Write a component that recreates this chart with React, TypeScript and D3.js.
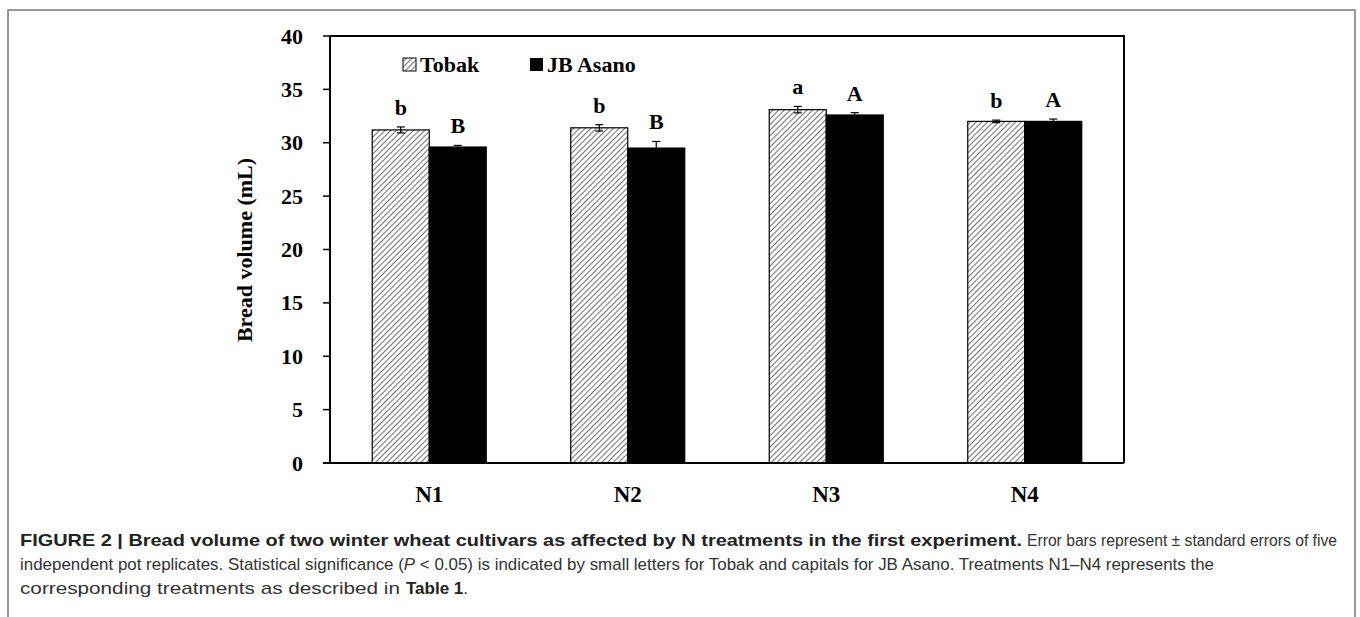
import React from "react";
import * as d3 from "d3";

const categories = ["N1", "N2", "N3", "N4"];
const seriesNames = ["Tobak", "JB Asano"];
const tobakValues = [31.2, 31.4, 33.1, 32.0];
const tobakErrors = [0.28, 0.3, 0.3, 0.12];
const asanoValues = [29.6, 29.5, 32.6, 32.0];
const asanoErrors = [0.15, 0.62, 0.22, 0.22];
const tobakLetters = ["b", "b", "a", "b"];
const asanoLetters = ["B", "B", "A", "A"];
const yTicks = [0, 5, 10, 15, 20, 25, 30, 35, 40];

const W = 1360;
const H = 617;
const plot = { left: 330, right: 1124, top: 36, bottom: 463 };
const serif = "'Liberation Serif', 'Times New Roman', serif";
const sans = "'Liberation Sans', Arial, Helvetica, sans-serif";

export default function App() {
  const y = d3.scaleLinear().domain([0, 40]).range([plot.bottom, plot.top]);
  const p = 0.4257;
  const x0 = d3
    .scaleBand<string>()
    .domain(categories)
    .range([plot.left, plot.right])
    .paddingInner(p)
    .paddingOuter(p / 2);
  const x1 = d3.scaleBand<string>().domain(seriesNames).range([0, x0.bandwidth()]);

  const series = [
    { name: "Tobak", values: tobakValues, errors: tobakErrors, letters: tobakLetters, fill: "url(#hatch)" },
    { name: "JB Asano", values: asanoValues, errors: asanoErrors, letters: asanoLetters, fill: "#000" },
  ];

  return (
    <svg
      width={W}
      height={H}
      style={{ position: "absolute", left: 0, top: 0, background: "#fff" }}
    >
      <defs>
        <pattern id="hatch" patternUnits="userSpaceOnUse" width="4" height="4" patternTransform="rotate(45)">
          <rect width="4" height="4" fill="#fff" />
          <line x1="0" y1="0" x2="0" y2="4" stroke="#222" strokeWidth="1.3" />
        </pattern>
      </defs>
      <rect x={0} y={0} width={W} height={H} fill="#fff" />
      {/* figure frame */}
      <path d={`M8,${H} V10 H1355 V${H}`} fill="none" stroke="#777" strokeWidth={1.5} />

      {/* plot box */}
      <path
        d={`M${plot.left},${plot.top} H${plot.right} V${plot.bottom}`}
        fill="none"
        stroke="#000"
        strokeWidth={2}
      />

      {/* bars */}
      {series.map((s) =>
        categories.map((c, i) => {
          const bx = (x0(c) as number) + (x1(s.name) as number);
          const bw = x1.bandwidth();
          const top = y(s.values[i]);
          return (
            <rect
              key={s.name + c}
              x={bx}
              y={top}
              width={bw}
              height={plot.bottom - top}
              fill={s.fill}
              stroke="#000"
              strokeWidth={1.2}
            />
          );
        })
      )}

      {/* error bars and letters */}
      {series.map((s) =>
        categories.map((c, i) => {
          const cx = (x0(c) as number) + (x1(s.name) as number) + x1.bandwidth() / 2;
          const hi = y(s.values[i] + s.errors[i]);
          const lo = y(s.values[i] - s.errors[i]);
          return (
            <g key={"e" + s.name + c}>
              <line x1={cx} x2={cx} y1={hi} y2={lo} stroke="#000" strokeWidth={1.2} />
              <line x1={cx - 4} x2={cx + 4} y1={hi} y2={hi} stroke="#000" strokeWidth={1.2} />
              <line x1={cx - 4} x2={cx + 4} y1={lo} y2={lo} stroke="#000" strokeWidth={1.2} />
              <text
                x={cx}
                y={hi - 12}
                textAnchor="middle"
                fontFamily={serif}
                fontWeight="bold"
                fontSize={22}
              >
                {s.letters[i]}
              </text>
            </g>
          );
        })
      )}

      {/* axes */}
      <line x1={plot.left} x2={plot.left} y1={plot.top} y2={plot.bottom} stroke="#000" strokeWidth={2} />
      <line x1={plot.left - 7} x2={plot.right} y1={plot.bottom} y2={plot.bottom} stroke="#000" strokeWidth={2} />
      {yTicks.map((t) => (
        <g key={"t" + t}>
          <line x1={plot.left - 7} x2={plot.left} y1={y(t)} y2={y(t)} stroke="#000" strokeWidth={1.5} />
          <text
            x={303}
            y={y(t) + 7.5}
            textAnchor="end"
            fontFamily={serif}
            fontWeight="bold"
            fontSize={22}
          >
            {t}
          </text>
        </g>
      ))}
      <text
        transform="translate(252,250) rotate(-90)"
        textAnchor="middle"
        fontFamily={serif}
        fontWeight="bold"
        fontSize={22}
      >
        Bread volume (mL)
      </text>

      {/* x labels */}
      {categories.map((c) => (
        <text
          key={"x" + c}
          x={(x0(c) as number) + x0.bandwidth() / 2}
          y={502}
          textAnchor="middle"
          fontFamily={serif}
          fontWeight="bold"
          fontSize={23}
        >
          {c}
        </text>
      ))}

      {/* legend */}
      <rect x={403} y={58} width={13} height={13} fill="url(#hatch)" stroke="#000" strokeWidth={1} />
      <text x={420} y={72} fontFamily={serif} fontWeight="bold" fontSize={22}>
        {seriesNames[0]}
      </text>
      <rect x={530} y={58} width={13} height={13} fill="#000" />
      <text x={547} y={72} fontFamily={serif} fontWeight="bold" fontSize={22}>
        {seriesNames[1]}
      </text>

      {/* caption */}
      <g fontFamily={sans} fontSize={17} fill="#333">
        <text x={20} y={546} fontWeight="bold" fill="#222" textLength={1002} lengthAdjust="spacingAndGlyphs">
          FIGURE 2 | Bread volume of two winter wheat cultivars as affected by N treatments in the first experiment.
        </text>
        <text x={1027} y={546} fontSize={16} textLength={310} lengthAdjust="spacingAndGlyphs">
          Error bars represent ± standard errors of five
        </text>
        <text x={20} y={570} textLength={1194} lengthAdjust="spacingAndGlyphs">
          independent pot replicates. Statistical significance (<tspan fontStyle="italic">P</tspan> &lt; 0.05) is
          indicated by small letters for Tobak and capitals for JB Asano. Treatments N1–N4 represents the
        </text>
        <text x={20} y={594} textLength={380} lengthAdjust="spacingAndGlyphs">
          corresponding treatments as described in
        </text>
        <text x={406} y={594}>
          <tspan fontWeight="bold" fill="#222">Table 1</tspan>.
        </text>
      </g>
    </svg>
  );
}
